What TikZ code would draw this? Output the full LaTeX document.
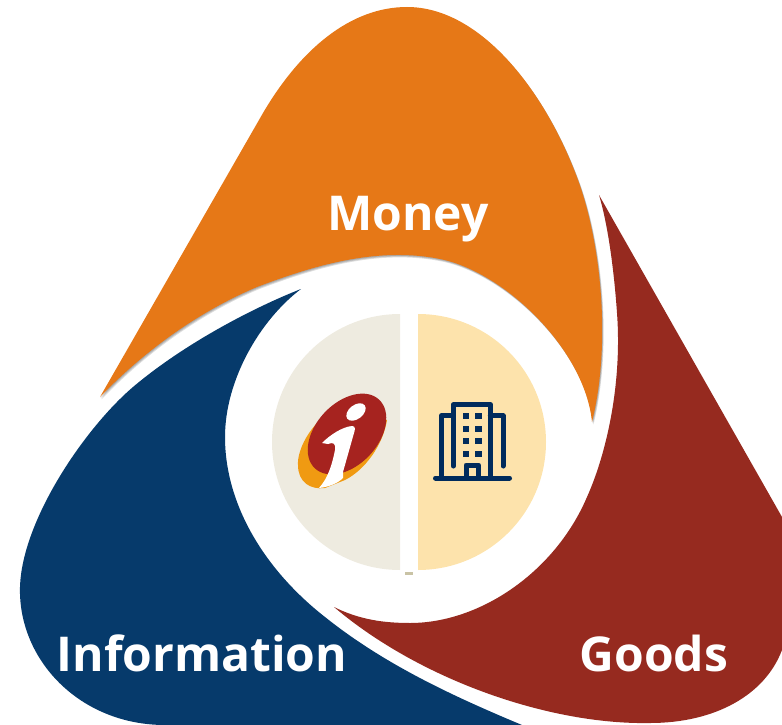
\documentclass[tikz,border=0pt]{standalone}
\usepackage{fontspec}
\setmainfont{Open Sans}
\usepackage{tikz}
\definecolor{moneyfill}{HTML}{E67817}
\definecolor{goodsfill}{HTML}{962A1F}
\definecolor{infofill}{HTML}{063A6B}
\definecolor{leftfill}{HTML}{EEEBE0}
\definecolor{rightfill}{HTML}{FDE3AC}
\definecolor{tickfill}{HTML}{C9C3A5}
\definecolor{logored}{HTML}{A6231F}
\definecolor{logoorange}{HTML}{F09A12}
\definecolor{towerblue}{HTML}{002B5C}
\tikzset{
  petallabel/.style={text=white,font=\fontsize{48}{52}\bfseries\selectfont,inner sep=0pt,anchor=base},
  towerline/.style={draw=towerblue,line width=5pt,line join=round,line cap=round},
  towerwin/.style={fill=towerblue},
}
\def\moneypath{(100,397) -- (263,113)
    .. controls (300,50) and (350,7) .. (407,7)
    .. controls (480,7) and (545,90) .. (578,180)
    .. controls (600,240) and (612,340) .. (592,422)
    .. controls (585,350) and (505,272) .. (440,259)
    .. controls (375,246) and (310,267) .. (257,287)
    .. controls (205,309) and (150,345) .. (100,397) -- cycle}
\begin{document}
\begin{tikzpicture}[x=1pt,y=-1pt]
  \useasboundingbox (0,0) rectangle (782,725);
  \fill[infofill] (301,289) .. controls (255,307) and (185,343) .. (133,387)
    .. controls (85,428) and (22,520) .. (20,587)
    .. controls (18,660) and (80,725) .. (165,725)
    -- (522,725) .. controls (455,697) and (385,665) .. (325,617)
    .. controls (265,570) and (225,505) .. (225,437)
    .. controls (225,380) and (260,320) .. (301,289) -- cycle;
  \fill[goodsfill] (599,195) -- (782,517)
    -- (782,650) .. controls (765,695) and (715,723) .. (650,723)
    .. controls (550,725) and (420,680) .. (334,607)
    .. controls (360,620) and (385,623) .. (410,623)
    .. controls (480,623) and (555,572) .. (587,497)
    .. controls (608,450) and (622,380) .. (617,313)
    .. controls (614,270) and (608,225) .. (599,195) -- cycle;
  \foreach \sh in {3,2,1} {
    \fill[black,opacity=0.13,xshift=\sh*0.5pt,yshift=-\sh*0.8pt] \moneypath;
  }
  \fill[moneyfill] \moneypath;
  \fill[leftfill] (400,314) arc[start angle=-90,end angle=-270,radius=128] -- cycle;
  \fill[rightfill] (418,314) arc[start angle=-90,end angle=90,radius=128] -- cycle;
  \fill[tickfill] (405,572) rectangle (413,574.5);
  \fill[logoorange] (330,412) .. controls (310,425) and (297,450) .. (298,465)
    .. controls (298,482) and (310,490) .. (325,488) -- (345,480)
    .. controls (365,470) and (383,445) .. (387,420) -- cycle;
  \fill[logored, rotate around={47:(347,434)}] (347,434) ellipse [x radius=47,y radius=31];
  \fill[white] (322,443) .. controls (330,435) and (342,427) .. (352,426)
    .. controls (356,426) and (355,430) .. (354,433) -- (343,472) -- (343,478)
    .. controls (337,484) and (328,487) .. (319,488)
    .. controls (328,478) and (332,465) .. (335,450)
    .. controls (336,443) and (333,442) .. (328,444) -- cycle;
  \fill[white, rotate around={38:(356,412)}] (356,412) ellipse [x radius=11,y radius=7];
  \draw[towerline] (435.5,478) -- (509.5,478);
  \draw[towerline] (441.7,478) -- (441.7,415.7) -- (453.3,415.7);
  \draw[towerline] (453.3,466) -- (453.3,404.7) -- (490.3,404.7) -- (490.3,478);
  \draw[towerline] (490.3,415.7) -- (503,415.7) -- (503,466);
  \draw[towerline] (466,478) -- (466,465) -- (478.7,465) -- (478.7,478);
  \foreach \wy in {413.3,425.7,438,450.7} {
    \fill[towerwin] (462.8,\wy) rectangle +(6.5,6);
    \fill[towerwin] (475.4,\wy) rectangle +(6.5,6);
  }
  \node[petallabel] (money) at (408,230) {Money};
  \node[petallabel] (information) at (202,671) {Information};
  \node[petallabel] (goods) at (654,671) {Goods};
\end{tikzpicture}
\end{document}
